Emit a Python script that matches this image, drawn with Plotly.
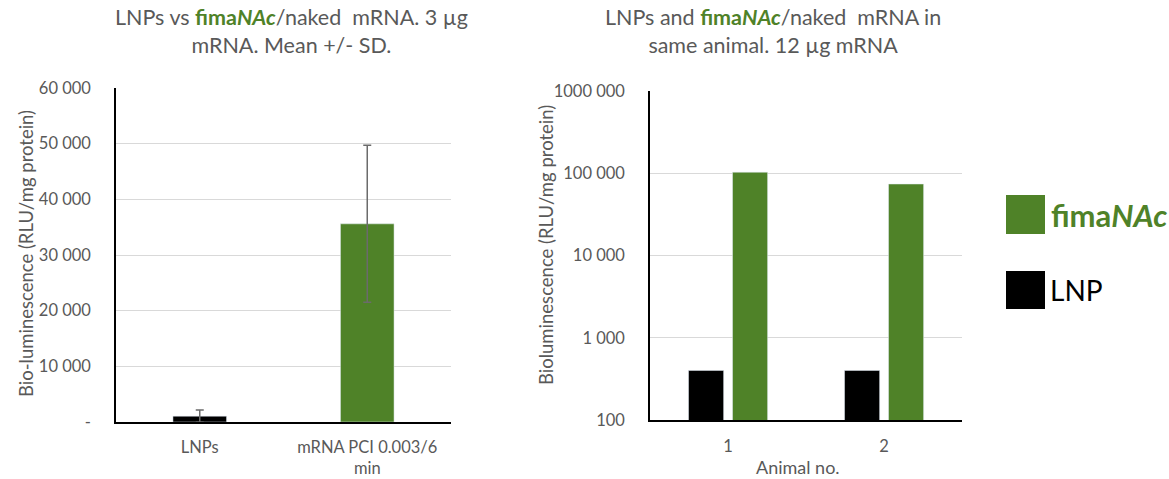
import plotly.graph_objects as go

GREEN = "#4f8228"
GRAY = "#595959"
GRID = "#d9d9d9"
FONT = "Lato"

# Left chart data
left_categories = ["LNPs", "mRNA PCI 0.003/6<br>min"]
left_means = [1050, 35600]
left_sd = [1100, 14100]
left_colors = ["#000000", GREEN]
left_yticks = [0, 10000, 20000, 30000, 40000, 50000, 60000]
left_yticklabels = ["-", "10 000", "20 000", "30 000", "40 000", "50 000", "60 000"]

# Right chart data
animals = ["1", "2"]
lnp_values = [400, 400]
fimanac_values = [103000, 74000]
right_yticks = [100, 1000, 10000, 100000, 1000000]
right_yticklabels = ["100", "1 000", "10 000", "100 000", "1000 000"]

W, H = 1169, 479
def px(x): return x / W
def py(y): return 1 - y / H

fig = go.Figure()

fig.add_trace(go.Bar(
    x=left_categories, y=left_means, marker_color=left_colors,
    width=0.32, offset=-0.16,
    error_y=dict(type="data", array=left_sd, visible=True, color="#6b6b6b", thickness=1.5, width=4),
    xaxis="x", yaxis="y", showlegend=False,
))
fig.add_trace(go.Bar(
    x=animals, y=lnp_values, marker_color="#000000", name="LNP",
    width=0.225, offset=-0.253, xaxis="x2", yaxis="y2", showlegend=False,
))
fig.add_trace(go.Bar(
    x=animals, y=fimanac_values, marker_color=GREEN, name="fimaNAc",
    width=0.225, offset=0.029, xaxis="x2", yaxis="y2", showlegend=False,
))

tickfont = dict(family=FONT, size=16.5, color=GRAY)

fig.update_layout(
    width=W, height=H, margin=dict(l=0, r=0, t=0, b=0, autoexpand=False),
    paper_bgcolor="white", plot_bgcolor="white",
    barmode="overlay",
    xaxis=dict(domain=[px(116), px(451)], showline=True, linecolor="black", linewidth=1.5,
               showgrid=False, tickfont=tickfont, ticklabelstandoff=9, anchor="y",
               automargin=False),
    yaxis=dict(domain=[py(422), py(88)], range=[0, 60000], tickvals=left_yticks,
               ticktext=left_yticklabels, showline=True, linecolor="black", linewidth=1.5,
               showgrid=True, gridcolor=GRID, gridwidth=1.2, zeroline=False,
               tickfont=tickfont, ticklabelstandoff=20, anchor="x", automargin=False),
    xaxis2=dict(domain=[px(650), px(962)], showline=True, linecolor="black", linewidth=1.5,
                showgrid=False, tickfont=tickfont, ticklabelstandoff=10, anchor="y2",
                automargin=False),
    yaxis2=dict(domain=[py(420), py(91)], type="log", range=[2, 6], tickvals=right_yticks,
                ticktext=right_yticklabels, showline=True, linecolor="black", linewidth=1.5,
                showgrid=True, gridcolor=GRID, gridwidth=1.2, zeroline=False,
                tickfont=tickfont, ticklabelstandoff=20, anchor="x2", automargin=False),
)

title_font = dict(family=FONT, size=21.5, color=GRAY)
green_word = f"<span style='color:{GREEN}'><b>fima<i>NAc</i></b></span>"
annotations = [
    dict(text=f"LNPs vs {green_word}/naked  mRNA. 3 µg<br>mRNA. Mean +/- SD.",
         x=px(291), y=py(31), font=title_font),
    dict(text=f"LNPs and {green_word}/naked  mRNA in<br>same animal. 12 µg mRNA",
         x=px(773), y=py(31), font=title_font),
    dict(text="Bio-luminescence (RLU/mg protein)", textangle=-90, x=px(26), y=py(254),
         font=dict(family=FONT, size=18.5, color=GRAY)),
    dict(text="Bioluminescence (RLU/mg protein)", textangle=-90, x=px(546), y=py(245),
         font=dict(family=FONT, size=18.5, color=GRAY)),
    dict(text="Animal no.", x=px(798), y=py(467), font=dict(family=FONT, size=18, color=GRAY)),
    dict(text=f"<span style='color:{GREEN}'><b>fima<i>NAc</i></b></span>", x=px(1049), y=py(215),
         xanchor="left", font=dict(family=FONT, size=31)),
    dict(text="LNP", x=px(1048), y=py(290), xanchor="left",
         font=dict(family=FONT, size=28, color="black")),
]
for a in annotations:
    a.setdefault("xanchor", "center")
    a.update(xref="paper", yref="paper", yanchor="middle", showarrow=False)
fig.update_layout(annotations=annotations)

fig.add_shape(type="rect", xref="paper", yref="paper", x0=px(1006), x1=px(1045),
              y0=py(234), y1=py(195), fillcolor=GREEN, line_width=0)
fig.add_shape(type="rect", xref="paper", yref="paper", x0=px(1006), x1=px(1045),
              y0=py(309), y1=py(271), fillcolor="black", line_width=0)

fig.write_html("out.html", config={"displayModeBar": False},
               post_script="document.body.style.margin='0px';")
